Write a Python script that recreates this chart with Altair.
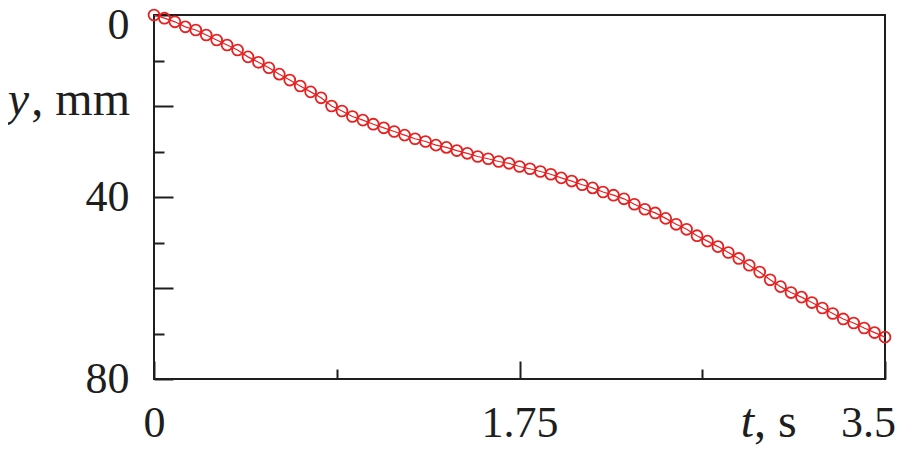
import altair as alt
import pandas as pd

# time samples (s) and displacement (mm)
t_values = [round(0.05 * i, 2) for i in range(71)]
y_values = [
    0.0, 0.7, 1.5, 2.6, 3.3, 4.4, 5.5, 6.6, 7.7, 9.2,
    10.4, 11.6, 13.0, 14.3, 15.6, 16.9, 18.2, 20.0, 21.1, 22.3,
    23.1, 24.0, 24.8, 25.6, 26.4, 27.2, 27.8, 28.6, 29.1, 29.8,
    30.4, 31.1, 31.6, 32.2, 32.6, 33.3, 33.8, 34.4, 35.0, 35.8,
    36.5, 37.3, 38.0, 38.9, 39.6, 40.4, 41.6, 42.7, 43.5, 44.7,
    46.0, 47.1, 48.5, 49.7, 50.9, 52.2, 53.5, 55.0, 56.5, 58.2,
    59.7, 61.0, 62.0, 63.2, 64.4, 65.6, 66.8, 67.7, 68.8, 69.8,
    70.8,
]
x_label_values = [0, 1.75, 3.5]
x_tick_values = [0, 0.875, 1.75, 2.625, 3.5]
y_label_values = [0, 40, 80]
y_tick_values = [0, 10, 20, 30, 40, 50, 60, 70, 80]

df = pd.DataFrame({"t": t_values, "y": y_values})

W, H = 731, 364
FONT = "Liberation Serif"
INK = "#1e1e1e"
RED = "#e82020"

xscale = alt.Scale(domain=[0, 3.5], nice=False, zero=False)
yscale = alt.Scale(domain=[0, 80], nice=False, reverse=True)

label_x_axis = alt.Axis(
    orient="bottom", values=x_label_values, labelExpr="'' + datum.value",
    ticks=False, tickSize=0, domain=False, grid=False, title=None,
    labelFont=FONT, labelFontSize=44, labelColor=INK, labelPadding=57,
    labelBaseline="alphabetic", labelFlush=False, labelOverlap=False, labelBound=False,
    labelOffset={"condition": {"test": "datum.value === 3.5", "value": -17}, "value": 0},
)
label_y_axis = alt.Axis(
    orient="left", values=y_label_values, labelExpr="'' + datum.value",
    ticks=False, tickSize=0, domain=False, grid=False, title=None,
    labelFont=FONT, labelFontSize=44, labelColor=INK, labelPadding=25,
    labelBaseline="middle", labelFlush=False, labelOverlap=False, labelBound=False,
    labelOffset={"condition": {"test": "datum.value === 0", "value": 10}, "value": 0},
)
tick_x_axis = alt.Axis(
    orient="top", offset=-H, values=x_tick_values, labels=False, domain=False,
    grid=False, title=None, tickColor=INK, tickWidth=2,
    tickSize={"condition": {"test": "datum.value % 1.75 === 0", "value": 18}, "value": 10},
)
tick_y_axis = alt.Axis(
    orient="right", offset=-W, values=y_tick_values, labels=False, domain=False,
    grid=False, title=None, tickColor=INK, tickWidth=2,
    tickSize={"condition": {"test": "datum.value % 20 === 0", "value": 19}, "value": 10},
)

base = alt.Chart(df)

line = base.mark_line(color=RED, strokeWidth=1.2).encode(
    x=alt.X("t:Q", scale=xscale, axis=tick_x_axis),
    y=alt.Y("y:Q", scale=yscale, axis=tick_y_axis),
)

points = base.mark_point(shape="circle", filled=False, color=RED, size=118, strokeWidth=1.8, opacity=1).encode(
    x=alt.X("t:Q", scale=xscale, axis=label_x_axis),
    y=alt.Y("y:Q", scale=yscale, axis=label_y_axis),
)

def label(text, x, y, align, italic=False):
    kw = dict(text=text, font=FONT, fontSize=48, color=INK, align=align, baseline="alphabetic")
    if italic:
        kw["fontStyle"] = "italic"
    return alt.Chart(pd.DataFrame({"a": [0]})).mark_text(**kw).encode(
        x=alt.value(x), y=alt.value(y)
    )

texts = [
    label("y", -125, 100, "right", italic=True),
    label(", mm", -24, 100, "right"),
    label("t", 600, 422, "right", italic=True),
    label(", s", 600, 422, "left"),
]

chart = alt.layer(line, points, *texts).resolve_axis(
    x="independent", y="independent"
).properties(
    width=W, height=H,
    autosize=alt.AutoSizeParams(type="none"),
    padding={"left": 146, "top": 7, "right": 12, "bottom": 68},
    background="white",
).configure_view(stroke=INK, strokeWidth=2)

chart.save("out.html", embed_options={"renderer": "svg", "actions": False})
